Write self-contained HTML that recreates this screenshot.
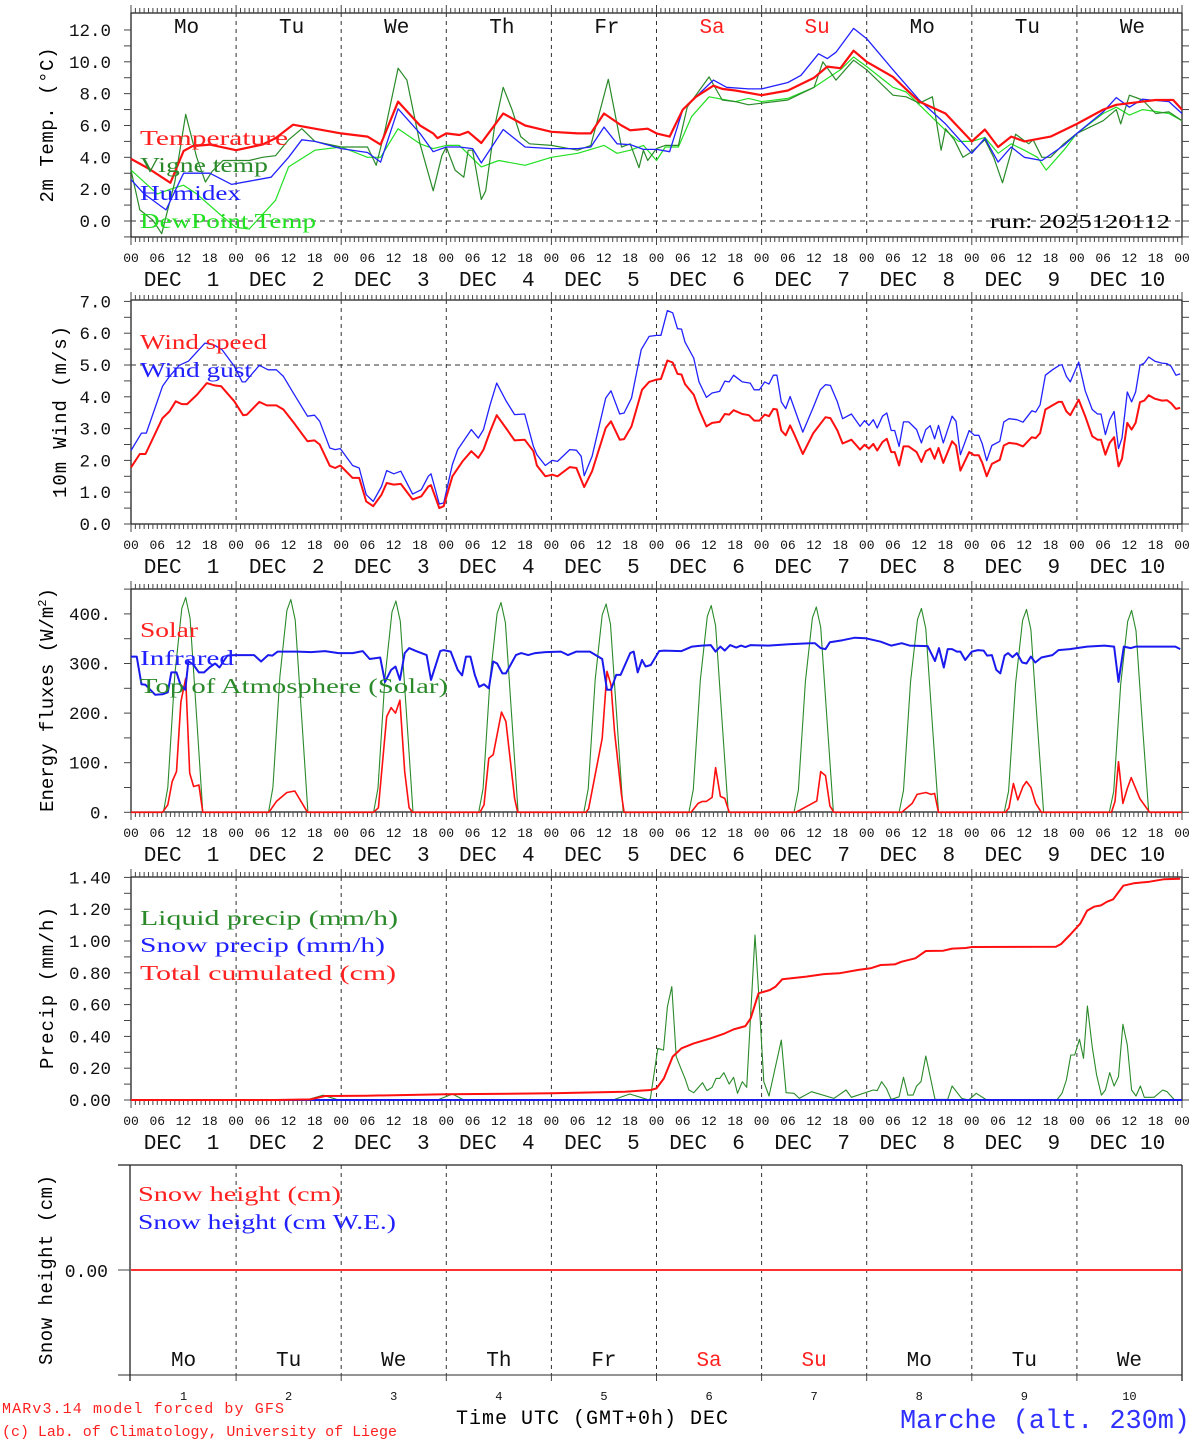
<!DOCTYPE html>
<html><head><meta charset="utf-8"><title>MAR forecast Marche</title>
<style>
html,body{margin:0;padding:0;background:#fff;}
svg{display:block;font-family:"Liberation Mono","DejaVu Sans Mono",monospace;}
.lg{font-family:"Liberation Serif","DejaVu Serif",serif;}
</style></head>
<body>
<svg id="chart" width="1194" height="1440" viewBox="0 0 1194 1440" xmlns="http://www.w3.org/2000/svg">
<g id="frames"></g>
<g id="series"></g>
<g id="labels">
  <text transform="translate(53,125) rotate(-90)" text-anchor="middle" font-size="19" textLength="155">2m Temp. (°C)</text>
  <text transform="translate(66,412) rotate(-90)" text-anchor="middle" font-size="19" textLength="172">10m Wind (m/s)</text>
  <text transform="translate(53,700) rotate(-90)" text-anchor="middle" font-size="19">Energy fluxes (W/m<tspan dy="-7" font-size="12">2</tspan><tspan dy="7">)</tspan></text>
  <text transform="translate(53,988) rotate(-90)" text-anchor="middle" font-size="19" textLength="162">Precip (mm/h)</text>
  <text transform="translate(52,1270) rotate(-90)" text-anchor="middle" font-size="19" textLength="190">Snow height (cm)</text>

  <g font-size="21" class="lg" lengthAdjust="spacingAndGlyphs">
  <text x="140" y="145" fill="#ff2020" textLength="148" lengthAdjust="spacingAndGlyphs">Temperature</text>
  <text x="140" y="172" fill="#2a8a2a" textLength="128" lengthAdjust="spacingAndGlyphs">Vigne temp</text>
  <text x="140" y="200" fill="#2020ff" textLength="101" lengthAdjust="spacingAndGlyphs">Humidex</text>
  <text x="140" y="228" fill="#20e020" textLength="176" lengthAdjust="spacingAndGlyphs">DewPoint Temp</text>
  <text x="990" y="228" font-size="20" textLength="180" lengthAdjust="spacingAndGlyphs">run: 2025120112</text>
  <text x="140" y="349" fill="#ff2020" textLength="127" lengthAdjust="spacingAndGlyphs">Wind speed</text>
  <text x="140" y="377" fill="#2020ff" textLength="112" lengthAdjust="spacingAndGlyphs">Wind gust</text>
  <text x="140" y="637" fill="#ff2020" textLength="58" lengthAdjust="spacingAndGlyphs">Solar</text>
  <text x="140" y="665" fill="#2020ff" textLength="94" lengthAdjust="spacingAndGlyphs">Infrared</text>
  <text x="140" y="693" fill="#2a8a2a" textLength="308" lengthAdjust="spacingAndGlyphs">Top of Atmosphere (Solar)</text>
  <text x="140" y="925" fill="#2a8a2a" textLength="258" lengthAdjust="spacingAndGlyphs">Liquid precip (mm/h)</text>
  <text x="140" y="952" fill="#2020ff" textLength="245" lengthAdjust="spacingAndGlyphs">Snow precip (mm/h)</text>
  <text x="140" y="980" fill="#ff2020" textLength="256" lengthAdjust="spacingAndGlyphs">Total cumulated (cm)</text>
  <text x="138" y="1201" fill="#ff2020" textLength="203" lengthAdjust="spacingAndGlyphs">Snow height (cm)</text>
  <text x="138" y="1229" fill="#2020ff" textLength="258" lengthAdjust="spacingAndGlyphs">Snow height (cm W.E.)</text>
  </g>
  <text x="456" y="1424" font-size="20" textLength="272">Time UTC (GMT+0h) DEC</text>
  <text x="900" y="1428" font-size="27" fill="#3030ff" textLength="290">Marche (alt. 230m)</text>
  <text x="2" y="1413" font-size="15" fill="#ff2020" textLength="282">MARv3.14 model forced by GFS</text>
  <text x="2" y="1436" font-size="15" fill="#ff2020" textLength="395">(c) Lab. of Climatology, University of Liege</text>
</g>
</svg>
<script>
// ---------- DATA ----------
const dayNames = ["Mo","Tu","We","Th","Fr","Sa","Su","Mo","Tu","We"];
const dayNums = ["1","2","3","4","5","6","7","8","9","10"];
const hourTicks = ["00","06","12","18"];

const tempHours = [0,4,9,12,14,18,24,30,33,37,42,48,54,57,61,66,69,70,72,75,77,80,85,90,96,102,105,108,112,114,118,120,123,126,129,133,135,138,144,150,156,159,162,165,168,174,180,186,192,195,198,201,204,210,216,222,225,228,234,238,240];
const tempVals = [3.9,3.3,2.4,4.4,4.7,4.8,4.45,4.8,5.2,6.05,5.8,5.5,5.3,4.8,7.5,6.0,5.5,5.2,5.5,5.4,5.6,4.9,6.75,6.0,5.6,5.5,5.5,6.75,6.0,5.7,5.8,5.5,5.3,7.0,7.8,8.5,8.3,8.2,7.9,8.2,9.0,9.7,9.6,10.7,10.0,9.05,7.5,6.75,5.0,5.75,4.65,5.3,5.0,5.3,6.1,7.0,7.3,7.4,7.6,7.6,7.0];

const humHours = [0,3,8,12,18,23,27,32,36,39,42,48,54,57,61,66,69,72,75,78,80,85,90,96,102,105,108,111,114,117,120,123,126,129,133,136,141,144,150,153,157,159,161,165,168,174,180,186,192,195,198,201,204,208,213,216,222,225,228,231,237,240];
const humVals = [2.6,1.7,0.7,3.0,3.0,2.3,2.5,2.75,4.0,5.1,5.0,4.55,4.3,3.7,7.05,5.5,4.35,4.65,4.65,4.55,3.65,5.75,4.65,4.55,4.55,4.65,5.9,4.85,4.8,4.5,4.5,4.35,7.0,7.8,8.85,8.4,8.3,8.3,8.7,9.15,10.5,10.2,10.6,12.1,11.45,9.5,7.6,6.1,4.25,5.2,3.7,4.65,4.0,3.8,4.75,5.5,6.85,7.75,7.15,7.65,7.5,6.75];

const vigneHours = [0,2,5,7,10,12.5,15,17,18.5,21,24,27,30,33,36,39,42,48,54,56,58,61,63,66,69,71,72,74,76,77,78,80,81,83,85,87,89,91,96,102,105,109,112,114,116,117,118,120,122,125,127,132,135,138,141,144,150,153,156,158,161,165,168,174,177,180,183,184,185,186,188,190,192,195,197,199,201,202,205,206,208,210,213,216,222,225,226,228,231,234,237,240];
const vigneVals = [3.2,0.7,0.05,-0.8,2.45,6.7,4.0,2.45,3.1,3.8,3.8,3.8,4.0,4.1,5.1,5.8,5.0,4.65,4.65,3.5,5.7,9.6,8.85,4.85,1.9,4.1,4.65,3.2,2.75,4.45,4.45,1.35,1.9,5.9,8.4,7.0,5.3,4.85,4.75,4.45,4.75,8.9,4.65,4.85,3.35,4.45,3.8,4.55,4.75,4.75,7.15,9.05,7.6,7.5,7.3,7.4,7.6,8.0,8.4,10.0,8.85,10.1,9.5,7.9,7.8,7.4,7.8,6.1,4.45,5.8,5.1,4.0,4.35,5.1,4.0,2.4,4.35,5.45,4.85,5.1,4.0,4.0,4.85,5.5,6.3,7.0,6.1,7.9,7.6,6.75,6.85,6.3];

const dewHours = [0,6,9,12,15,21,24,27,33,36,42,48,54,57,61,66,69,72,75,80,84,90,96,102,108,111,114,117,120,122,125,128,132,138,141,144,150,156,162,165,168,174,177,180,186,189,192,195,198,201,204,207,209,213,216,222,225,228,231,237,240];
const dewVals = [3.2,1.7,2.0,2.25,1.7,0.25,-0.4,-0.5,1.3,3.4,4.45,4.65,4.0,4.0,5.8,4.85,4.55,4.75,4.75,3.4,3.8,3.5,4.0,4.25,4.75,4.25,4.45,4.75,3.8,4.65,4.65,6.55,7.8,7.5,7.7,7.5,7.7,8.4,9.5,10.3,9.7,8.4,8.1,7.3,5.7,5.0,5.0,5.25,4.25,4.85,4.45,4.0,3.2,4.45,5.5,6.75,7.15,6.65,7.0,6.75,6.3];

const windHours = [0,2,3.3,7.2,8.8,10.2,11.6,12.8,15.1,17.3,19.1,20.6,23.6,25.6,26.5,29.3,31,33.2,34.8,37.2,40.3,41.9,43.1,45.4,46.6,47.8,50.6,52.1,53.7,55.3,57.2,58.4,60,61.6,64.3,66.3,67.9,68.5,70.4,71.4,73.4,75.7,77.7,79.3,80.5,82,83.5,85.6,87.6,89.9,91.9,92.7,94.6,96.2,97.4,100.2,101.7,103.5,105.3,108.4,109.6,111.6,112.6,114.3,116.7,118.3,120,121,122.5,123.7,124.8,125.7,126.5,128.5,129.7,131.4,132.7,134.4,135.6,136.6,137.6,139.6,141.1,142.3,143.5,144.7,145.7,146.7,147.5,148.5,149.5,150.5,151.5,153.4,155.8,158.6,159.7,161.3,162.5,164.5,166.5,167.5,168.5,169.5,170.4,171.6,172.6,173.6,174.4,175.4,176.4,177.6,179.4,180.5,181.5,182.5,183.5,184.4,185.5,187.5,188.4,189.4,191.4,192.6,193.6,194.4,195.4,196.6,198.4,199.3,200.5,202.3,203.7,205.7,206.6,207.6,208.8,210.4,211.8,212.6,213.6,214.5,216.4,217.9,219.5,220.7,221.5,222.5,223.5,224.5,225.5,226.3,227.5,228.5,229.4,230.4,231.4,232.4,233.8,235.4,236.6,237.5,238.6,239.6];
const windVals = [1.78,2.2,2.2,3.33,3.54,3.86,3.77,3.77,4.07,4.43,4.36,4.33,3.86,3.42,3.44,3.84,3.73,3.73,3.6,3.18,2.6,2.63,2.5,1.83,1.76,1.84,1.45,1.45,0.71,0.56,0.92,1.29,1.24,1.26,0.77,0.87,1.18,1.22,0.5,0.56,1.5,1.97,2.29,2.08,2.34,2.91,3.42,3.02,2.63,2.65,2.29,1.84,1.5,1.55,1.5,1.79,1.76,1.16,1.66,3.02,3.23,2.65,2.67,3.07,4.22,4.47,4.54,4.56,5.14,5.08,4.72,4.7,4.4,4.07,3.6,3.07,3.18,3.21,3.46,3.44,3.58,3.46,3.42,3.25,3.25,3.44,3.39,3.62,3.6,2.94,2.79,3.1,2.81,2.2,2.86,3.36,3.33,2.94,2.53,2.65,2.34,2.49,2.37,2.52,2.31,2.58,2.68,2.26,2.26,1.84,2.44,2.44,2.26,1.95,2.29,2.37,2.05,2.39,1.92,2.6,2.47,1.68,2.26,2.16,2.16,1.92,1.5,1.89,2.02,2.47,2.55,2.52,2.44,2.73,2.7,2.86,3.6,3.73,3.84,3.84,3.54,3.42,3.91,3.39,2.76,2.65,2.65,2.18,2.55,2.73,1.81,2.05,3.18,2.97,3.18,3.83,3.88,4.05,3.94,3.88,3.89,3.8,3.62,3.65];

const gustHours = [0,2.4,3.5,7.2,8.8,11,13.1,16.9,19.1,20.8,23.6,25.4,26.1,29.3,31.3,33.2,34.8,37.2,40.3,41.9,43.1,45.4,46.6,47.8,50.6,52.1,53.7,55.3,57.2,58.4,60,61.6,64.3,66.3,67.9,68.5,70.4,71.4,73.4,74.6,77.7,79.3,80.5,82,83.5,85.6,87.6,89.9,91.9,92.7,94.6,96.2,97.4,100.2,101.7,102.8,103.5,105.3,108.4,109.6,111.6,112.6,114.3,116.5,118.3,120,121,122.5,123.7,124.8,125.7,126.5,128.5,129.7,131.4,132.7,134.4,135.6,136.6,137.6,139.6,141.4,142.3,143.5,144.7,145.7,146.7,147.5,148.5,149.5,150.5,153.4,155.8,157.4,158.6,159.7,161.3,162.5,164.5,166.5,167.5,168.5,169.5,170.4,171.6,172.6,173.6,174.4,175.4,176.4,177.6,179.4,180.5,181.5,182.5,183.5,184.4,185.5,187.5,188.4,189.4,191.4,192.6,193.6,194.4,195.4,196.6,198.4,199.3,200.5,202.3,203.7,205.7,206.6,207.6,208.8,210.4,212,212.6,213.6,214.5,216.4,217.9,219.5,220.7,221.5,222.5,223.5,224.5,225.5,226.3,227.5,228.5,229.4,230.4,231.4,232.4,233.8,235.4,236.6,237.5,238.6,239.6];
const gustVals = [2.31,2.86,2.86,4.33,4.64,4.99,5.12,5.69,5.62,5.48,4.96,4.47,4.47,4.99,4.85,4.85,4.64,4.09,3.39,3.42,3.23,2.39,2.34,2.37,1.84,1.76,0.92,0.71,1.18,1.68,1.58,1.66,0.94,1.08,1.5,1.58,0.63,0.66,1.87,2.34,2.97,2.7,2.97,3.75,4.43,3.88,3.44,3.46,2.44,2.18,1.84,2.0,1.97,2.34,2.32,2.13,1.52,2.13,3.96,4.19,3.46,3.49,3.96,5.48,5.9,5.93,5.93,6.71,6.64,6.14,6.13,5.72,5.22,4.47,3.98,4.12,4.17,4.49,4.47,4.68,4.47,4.43,4.22,4.22,4.47,4.4,4.68,4.68,3.84,3.63,4.01,2.89,3.67,4.22,4.38,4.36,3.84,3.31,3.46,3.07,3.25,3.1,3.28,3.02,3.39,3.49,2.94,2.94,2.44,3.21,3.21,2.97,2.55,2.97,3.09,2.68,3.1,2.55,3.39,3.23,2.18,2.94,2.79,2.79,2.52,1.99,2.47,2.6,3.21,3.31,3.28,3.2,3.56,3.52,3.75,4.68,4.85,4.99,5.01,4.64,4.47,5.09,4.19,3.6,3.46,3.46,2.81,3.28,3.54,2.37,2.7,4.15,3.84,4.15,4.99,5.06,5.25,5.12,5.06,5.04,4.96,4.68,4.72];

const solarHours = [0,7.2,8.4,9.4,10.4,11.4,12.5,13.4,14.3,15.5,16.4,31.5,33.2,35.6,37.4,40.3,55.4,56.5,58.4,59.4,60.4,61.4,62.5,63.5,64.3,79.7,80.6,81.7,82.7,84.6,85.6,87.6,88.3,103.9,104.5,107.6,108.7,109.6,110.4,112,112.6,127.9,129.5,130.5,131.4,132.7,133.5,134.6,135.6,136.6,151.8,156.6,157.5,158.6,159.6,160.5,176,178.4,179.5,181.5,182.7,183.5,184.4,199.7,200.5,201.5,202.5,203.7,204.5,205.5,206.6,207.9,223.9,224.7,225.5,226.5,227.5,228.4,230.4,231.4,232.6,240];
const solarVals = [0,0,15,62,82,223,270,79,52,55,0,0,22,40,43,0,0,9,193,211,200,226,82,9,0,0,15,109,116,202,183,28,0,0,7,149,284,257,163,35,0,0,18,22,22,30,90,32,28,0,0,23,82,74,13,0,0,18,36,40,36,38,0,0,9,58,25,52,62,50,18,0,0,22,102,18,48,70,27,15,0,0];

const irHours = [0,1.3,2.4,3.3,5.5,7.2,8.4,9.2,10.4,11.3,12.4,13.1,14.3,15.5,16.7,17.9,19.2,20.2,22,23.6,28.1,29.7,31.3,32.3,33.5,38,41.1,44.3,47.4,50.6,52.9,54.5,56.9,58,59.4,60.4,61.4,62.5,63.5,65.1,67.5,68.5,70.6,71.4,73,74.6,75.6,76.5,77.5,78.5,79.5,80.6,81.7,82.7,83.6,84.8,85.6,87.9,89.1,90.7,92.3,94.6,98.2,99.8,101.7,104.8,107.6,108.7,109.6,110.8,111.8,114,114.8,115.7,116.7,117.5,118.7,120.6,121.7,125.7,128.1,130.3,132.4,133.5,134.6,135.6,136.8,138.2,139.3,140.3,141.5,145.5,150.2,155,156.2,157.5,158.6,159.6,162.5,165.3,167.7,171.2,173.6,176,177.8,181.9,183.6,184.5,185.6,186.5,187.5,188.6,189.4,190.5,192,193.4,194.7,195.5,196.6,197.6,198.5,199.5,200.3,201.3,202.3,203.5,204.5,205.5,206.5,207.9,210.4,211.8,214.4,218.3,222.3,224.5,225.5,226.7,228.3,229.5,237.3,238.5,239.6];
const irVals = [314,314,258,257,237,238,242,282,282,257,247,305,297,282,282,292,300,292,316,317,317,304,317,316,324,324,323,325,321,321,325,309,312,263,287,294,267,321,331,325,317,267,325,327,324,287,276,314,314,277,253,258,250,304,300,280,280,317,321,317,321,323,324,317,324,324,309,247,247,277,277,321,324,282,307,294,297,325,326,325,334,336,337,324,334,326,337,332,336,333,337,336,339,341,341,331,329,343,347,352,351,344,336,341,336,335,305,331,292,329,329,324,324,307,324,327,326,316,317,287,280,316,321,313,321,302,300,314,302,312,317,327,329,334,336,334,263,334,331,334,334,334,329];

const toaHours = [7.4,8.4,10,11.6,12.5,13.5,15,16.4, 31.4,32.4,34,35.6,36.5,37.5,39,40.4, 55.4,56.4,58,59.6,60.5,61.5,63,64.4, 79.4,80.4,82,83.6,84.5,85.5,87,88.4, 103.4,104.4,106,107.6,108.5,109.5,111,112.4, 127.4,128.4,130,131.6,132.5,133.5,135,136.4, 151.4,152.4,154,155.6,156.5,157.5,159,160.4, 175.4,176.4,178,179.6,180.5,181.5,183,184.4, 199.4,200.4,202,203.6,204.5,205.5,207,208.4, 223.4,224.4,226,227.6,228.5,229.5,231,232.4];
const toaVals = [0,50,277,411,433,391,190,0, 0,50,274,407,429,388,188,0, 0,49,272,404,426,385,186,0, 0,48,270,401,423,382,184,0, 0,47,268,398,420,379,182,0, 0,46,266,395,417,376,180,0, 0,45,264,392,414,373,178,0, 0,44,262,389,411,370,176,0, 0,43,260,387,409,368,174,0, 0,42,258,385,407,366,172,0];

const liquidHours = [0,40,43.9,47.4,70,73.4,76,110,113.9,118.3,118.6,120.3,121.6,122.5,123.5,124.5,125.7,126.5,127.4,128.5,130.5,131.5,132.7,133.6,134.4,135.4,136.6,137.6,138.5,139.6,140.6,142.5,143.3,144.5,145.7,148.5,149.6,151.4,152.6,155.4,160.5,163.3,164.5,169.5,170.4,171.4,172.5,173.6,175.4,176.4,177.4,178.6,179.4,180.4,181.5,182.5,183.6,186.5,187.5,189.7,191.3,193,195.4,211.4,212.6,213.6,214.6,215.5,216.6,217.5,218.4,219.5,220.5,221.6,222.5,223.5,224.5,225.5,226.5,227.5,228.5,229.5,230.5,231.4,233.6,235.6,236.6,238.3,240];
const liquidVals = [0,0,0.03,0,0,0.038,0,0,0.038,0,0.01,0.325,0.314,0.587,0.713,0.273,0.189,0.136,0.063,0.046,0.109,0.059,0.08,0.136,0.136,0.172,0.1,0.143,0.042,0.115,0.08,1.038,0.69,0.115,0.025,0.377,0.046,0.042,0.01,0.052,0.01,0.063,0.017,0.063,0.059,0.115,0.073,0.004,0.02,0.143,0.031,0.031,0.088,0.115,0.277,0.147,0.004,0.004,0.088,0.01,0,0.042,0,0,0.042,0.126,0.283,0.283,0.382,0.262,0.591,0.335,0.157,0.031,0.063,0.172,0.088,0.147,0.476,0.346,0.063,0.025,0.088,0.017,0.017,0.063,0.052,0,0];

const cumHours = [0,33,41,44.3,53.7,71.8,96.2,112.8,118.7,120,121.7,123.7,125.7,128.5,132.4,135.6,137.6,140.3,141.5,143.3,145.9,147.2,148.7,154.2,158.2,161.7,166.1,168.9,171.2,174.4,176,179.1,181.5,185.5,187.5,190.6,192,211.2,212.4,214.4,216.8,218.3,219.9,221.5,222.9,224.3,226.6,229,232.6,235.8,239.6];
const cumVals = [0,0,0.004,0.025,0.027,0.036,0.042,0.052,0.063,0.073,0.136,0.273,0.325,0.356,0.388,0.419,0.444,0.465,0.514,0.671,0.692,0.713,0.759,0.776,0.792,0.797,0.818,0.828,0.849,0.853,0.87,0.891,0.937,0.939,0.952,0.956,0.962,0.964,0.981,1.038,1.111,1.19,1.216,1.224,1.247,1.262,1.348,1.363,1.373,1.388,1.392];

const snowPrecipHours = [0,240];
const snowPrecipVals = [0,0];
const snowHeightHours = [0,240];
const snowHeightVals = [0,0];
const snowWEVals = [0,0];

const tempTicks = ["0.0","2.0","4.0","6.0","8.0","10.0","12.0"];
const windTicks = ["0.0","1.0","2.0","3.0","4.0","5.0","6.0","7.0"];
const energyTicks = ["0.","100.","200.","300.","400."];
const precipTicks = ["0.00","0.20","0.40","0.60","0.80","1.00","1.20","1.40"];

// ---------- SCALES ----------
const X0 = 131, X1 = 1182;
function xScale(h){ return X0 + h/240*(X1-X0); }
const panels = [
  {name:"temp", top:13, bottom:237, y0:221, k:15.92, minorStep:1, minorMin:-1, minorMax:12.5},
  {name:"wind", top:300, bottom:524, y0:524, k:31.8, minorStep:0.5, minorMin:0, minorMax:7},
  {name:"energy", top:589, bottom:812, y0:812.3, k:0.496, minorStep:50, minorMin:0, minorMax:450},
  {name:"precip", top:877, bottom:1100, y0:1100, k:159, minorStep:0.1, minorMin:0, minorMax:1.4},
];
function yScale(p, v){ return p.y0 - v*p.k; }

const NS = "http://www.w3.org/2000/svg";
const frames = document.getElementById('frames');
const seriesG = document.getElementById('series');
function mk(tag, attrs, parent){
  const el = document.createElementNS(NS, tag);
  for (const a in attrs) el.setAttribute(a, attrs[a]);
  parent.appendChild(el);
  return el;
}
function line(x1,y1,x2,y2,parent,stroke,w,dash){
  const el = mk('line',{x1:x1,y1:y1,x2:x2,y2:y2,stroke:stroke||'#222','stroke-width':w||1},parent);
  if (dash) el.setAttribute('stroke-dasharray', dash);
  return el;
}
function txt(x,y,s,size,anchor,parent,fill){
  const el = mk('text',{x:x,y:y,'font-size':size,'text-anchor':anchor||'start',fill:fill||'#111'},parent);
  el.textContent = s;
  return el;
}

// ---------- FRAMES ----------
panels.forEach(function(p){
  const g = mk('g',{},frames);
  
  
  mk('rect',{x:X0,y:p.top,width:X1-X0,height:p.bottom-p.top,fill:'none',stroke:'#222','stroke-width':1.3},g);
  for (let h=0; h<=240; h++){
    const x = xScale(h);
    const len = (h%24===0)?8:5;
    line(x,p.top-len,x,p.top,g,'#444',1);
    line(x,p.bottom,x,p.bottom+len,g,'#444',1);
  }
  for (let d=1; d<10; d++){
    const x = xScale(d*24);
    const gl = line(x,p.top,x,p.bottom,g,'#333',1,'4,4');
    
    
  }
  for (let v=p.minorMin; v<=p.minorMax+1e-9; v+=p.minorStep){
    const y = yScale(p,v);
    if (y < p.top-0.5 || y > p.bottom+0.5) continue;
    line(X0-7,y,X0,y,g,'#444',1);
    line(X1,y,X1+7,y,g,'#444',1);
  }
  for (let d=0; d<10; d++){
    for (let q=0; q<4; q++){
      const t = txt(xScale(d*24+q*6), p.bottom+25, hourTicks[q], 13, 'middle', g);
      
      
    }
    const dl = txt(xScale(d*24+12)-2, p.bottom+49, "DEC " + (dayNums[d].length<2?" ":"") + dayNums[d], 21, 'middle', g);
    dl.setAttribute('xml:space','preserve');
    dl.style.whiteSpace = 'pre';
    
    
  }
  const last = txt(xScale(240), p.bottom+25, "00", 13, 'middle', g);
  
  
});

function yLabels(p, labels, step){
  labels.forEach(function(s,i){
    const t = txt(111, yScale(p, i*step)+6, s, 17.5, 'end', frames);
    
    
  });
}
yLabels(panels[0], tempTicks, 2);
yLabels(panels[1], windTicks, 1);
yLabels(panels[2], energyTicks, 100);
yLabels(panels[3], precipTicks, 0.2);
const zl = line(X0, yScale(panels[0],0), X1, yScale(panels[0],0), frames, '#333', 1, '5,4');


const wl = line(X0, yScale(panels[1],5), X1, yScale(panels[1],5), frames, '#333', 1, '5,4');



dayNames.forEach(function(n,i){
  const c = (i===5||i===6)?'#ff2020':'#111';
  const t = txt(xScale(i*24+12)+3, 33, n, 21, 'middle', frames, c);
  
  
  const b = txt(xScale(i*24+12), 1366, n, 21, 'middle', frames, c);
  
  
  const dn = txt(xScale(i*24+12), 1400, dayNums[i], 12, 'middle', frames);
  
  
});

const P5 = {name:"snow", top:1165, bottom:1375, y0:1270, k:100};
(function(){
  const g = mk('g',{},frames);
  
  
  line(118,P5.top,X1,P5.top,g,'#222',1.3);
  line(118,P5.bottom,X1,P5.bottom,g,'#555',1.3);
  line(130,P5.top,130,P5.bottom+6,g,'#222',1.3);
  line(X1,P5.top,X1,P5.bottom+6,g,'#222',1.3);
  line(118,P5.y0,130,P5.y0,g,'#444',1);
  for (let d=1; d<10; d++){
    const x = xScale(d*24);
    const gl = line(x,P5.top,x,P5.bottom,g,'#333',1,'4,4');
    
    
    line(x,P5.bottom,x,P5.bottom+6,g,'#444',1);
  }
  const t = txt(108, P5.y0+7, "0.00", 18, 'end', g);
  
  
})();

// ---------- SERIES ----------
function drawSeries(p, hours, vals, color, width, name){
  const pts = hours.map(function(h,i){ return xScale(h).toFixed(1)+','+yScale(p, vals[i]).toFixed(1); }).join(' ');
  const el = mk('polyline',{points:pts,fill:'none',stroke:color,'stroke-width':width,'stroke-linejoin':'round'},seriesG);
  
  
  return el;
}
drawSeries(panels[0], dewHours, dewVals, '#22e022', 1.2, 'dewpoint-line');
drawSeries(panels[0], vigneHours, vigneVals, '#2a8a2a', 1.2, 'vigne-temp-line');
drawSeries(panels[0], humHours, humVals, '#2222ff', 1.3, 'humidex-line');
drawSeries(panels[0], tempHours, tempVals, '#ff1010', 2.2, 'temperature-line');

drawSeries(panels[1], gustHours, gustVals, '#2222ff', 1.3, 'wind-gust-line');
drawSeries(panels[1], windHours, windVals, '#ff1010', 2, 'wind-speed-line');

drawSeries(panels[2], toaHours, toaVals, '#2a8a2a', 1.1, 'toa-solar-line');
drawSeries(panels[2], solarHours, solarVals, '#ff1010', 1.6, 'solar-line');
drawSeries(panels[2], irHours, irVals, '#1a1aee', 2, 'infrared-line');

drawSeries(panels[3], liquidHours, liquidVals, '#2a8a2a', 1.1, 'liquid-precip-line');
drawSeries(panels[3], snowPrecipHours, snowPrecipVals, '#1a1aee', 2, 'snow-precip-line');
drawSeries(panels[3], cumHours, cumVals, '#ff1010', 2, 'total-cumulated-line');

drawSeries(P5, snowHeightHours, snowWEVals, '#1a1aee', 1.5, 'snow-height-we-line');
drawSeries(P5, snowHeightHours, snowHeightVals, '#ff3030', 2, 'snow-height-line');
</script>
</body></html>
